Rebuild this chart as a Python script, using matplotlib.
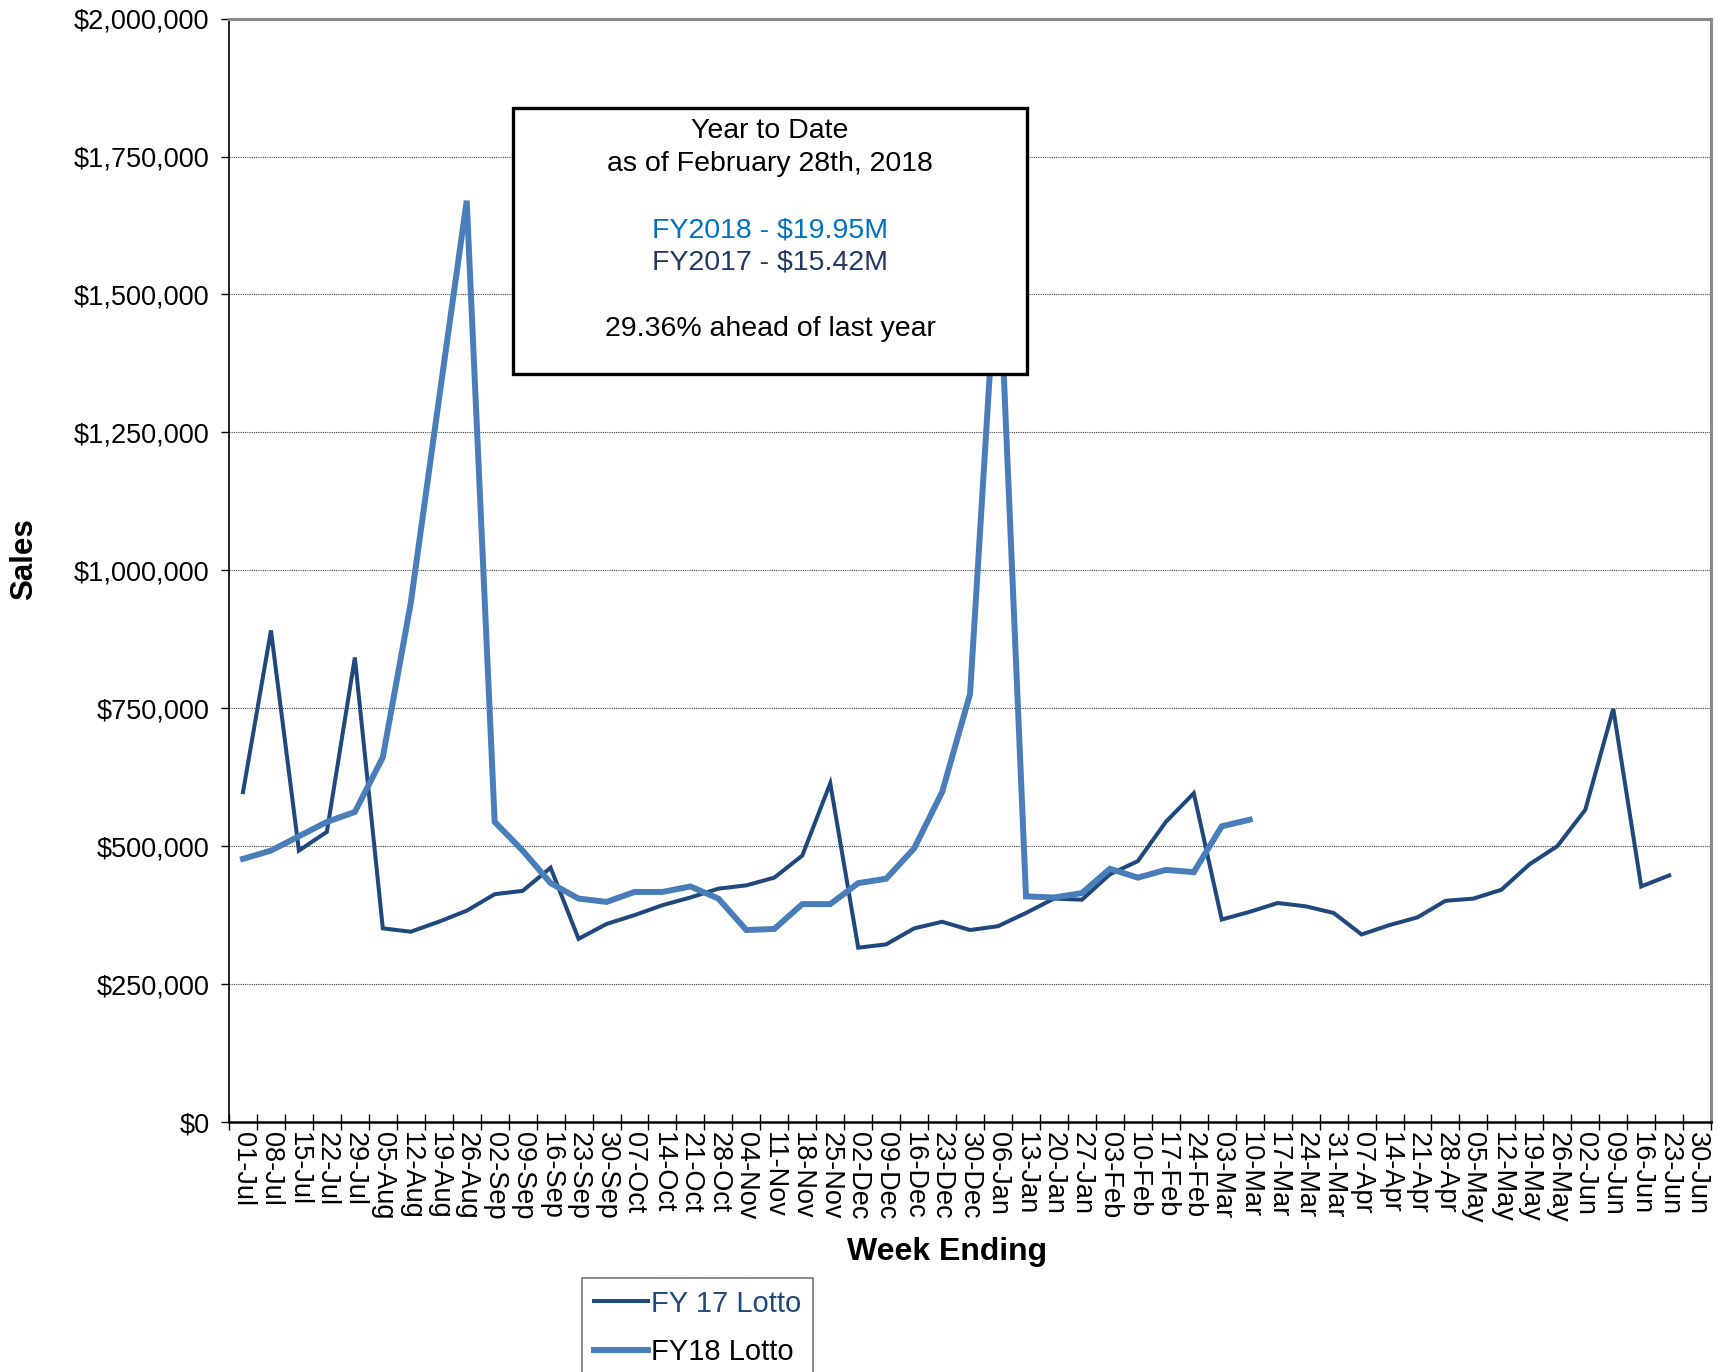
import numpy as np
import matplotlib
matplotlib.use("Agg")
import matplotlib.pyplot as plt
from matplotlib.patches import Rectangle
from matplotlib.ticker import FuncFormatter, MultipleLocator

plt.rcParams['font.family'] = ['Liberation Sans', 'DejaVu Sans']

# week ending labels, 01-Jul through 30-Jun
weeks = ['01-Jul', '08-Jul', '15-Jul', '22-Jul', '29-Jul', '05-Aug', '12-Aug',
         '19-Aug', '26-Aug', '02-Sep', '09-Sep', '16-Sep', '23-Sep', '30-Sep',
         '07-Oct', '14-Oct', '21-Oct', '28-Oct', '04-Nov', '11-Nov', '18-Nov',
         '25-Nov', '02-Dec', '09-Dec', '16-Dec', '23-Dec', '30-Dec', '06-Jan',
         '13-Jan', '20-Jan', '27-Jan', '03-Feb', '10-Feb', '17-Feb', '24-Feb',
         '03-Mar', '10-Mar', '17-Mar', '24-Mar', '31-Mar', '07-Apr', '14-Apr',
         '21-Apr', '28-Apr', '05-May', '12-May', '19-May', '26-May', '02-Jun',
         '09-Jun', '16-Jun', '23-Jun', '30-Jun']

# FY17 weekly sales
fy17 = [598000, 891000, 492000, 526000, 842000, 351000, 345000, 363000,
        383000, 413000, 419000, 461000, 332000, 359000, 375000, 393000,
        407000, 423000, 429000, 443000, 483000, 614000, 316000, 322000,
        351000, 363000, 348000, 355000, 379000, 405000, 403000, 449000,
        473000, 544000, 596000, 367000, 381000, 397000, 391000, 379000,
        340000, 357000, 371000, 401000, 405000, 421000, 467000, 500000,
        566000, 749000, 427000, 447000]

# FY18 weekly sales so far
fy18 = [477000, 492000, 518000, 544000, 562000, 661000, 941000, 1307000,
        1670000, 544000, 492000, 433000, 405000, 399000, 417000, 417000,
        427000, 405000, 348000, 350000, 395000, 395000, 433000, 441000,
        496000, 598000, 776000, 1600000, 409000, 407000, 415000, 459000,
        443000, 457000, 453000, 536000, 548000]

box_lines = ['Year to Date', 'as of February 28th, 2018',
             'FY2018 - $19.95M', 'FY2017 - $15.42M',
             '29.36% ahead of last year']

dark = '#1F497D'
light = '#4A7EBB'

fig = plt.figure(figsize=(17.18, 13.72), dpi=100)
ax = fig.add_axes([0.1333, 0.1822, 0.8627, 0.8042])

ax.plot(np.arange(len(fy17)), fy17, color=dark, lw=2.9,
        solid_joinstyle='miter', label='FY 17 Lotto', zorder=3)
ax.plot(np.arange(len(fy18)), fy18, color=light, lw=4.3,
        solid_joinstyle='miter', label='FY18 Lotto', zorder=3)

ax.set_xlim(-0.5, len(weeks) - 0.5)
ax.set_ylim(0, 2000000)

# y axis: dollar ticks every 250k with dotted grid
ax.yaxis.set_major_locator(MultipleLocator(250000))
ax.yaxis.set_major_formatter(FuncFormatter(lambda v, p: '${:,.0f}'.format(v)))
ax.grid(axis='y', color='#404040', linestyle=(0, (1, 1)), lw=0.8)
ax.tick_params(axis='y', direction='out', length=6, width=1,
               labelsize=19.5, pad=8)

# x axis: labels at category centres, cross ticks at boundaries
ax.set_xticks(np.arange(len(weeks)))
ax.set_xticklabels(weeks, rotation=-90, fontsize=19.5)
ax.tick_params(axis='x', which='major', length=0, pad=7)
ax.set_xticks(np.arange(len(weeks) + 1) - 0.5, minor=True)
ax.tick_params(axis='x', which='minor', direction='inout', length=12,
               width=1, color='black')

for s in ['top', 'right']:
    ax.spines[s].set_color('#888888')
    ax.spines[s].set_linewidth(2.2)
ax.spines['left'].set_color('black')
ax.spines['left'].set_linewidth(1.2)
ax.spines['bottom'].set_color('black')
ax.spines['bottom'].set_linewidth(1.8)

ax.set_ylabel('Sales', fontsize=22.5, fontweight='bold')
ax.yaxis.set_label_coords(-0.128, 0.51)
fig.text(0.5512, 0.0875, 'Week Ending', fontsize=23, fontweight='bold',
         ha='center', va='center')

# year to date summary box, drawn over the lines
ax.add_patch(Rectangle((0.1916, 0.678), 0.3469, 0.241, transform=ax.transAxes,
                       facecolor='white', edgecolor='black', lw=2.4,
                       zorder=5))
ys = [131.5, 164, 230, 263, 329]
cols = ['black', 'black', '#0070C0', '#1F3864', 'black']
for txt, yy, c in zip(box_lines, ys, cols):
    fig.text(770 / 1718, 1 - yy / 1372, txt, fontsize=20.5, color=c,
             ha='center', va='center', zorder=6)

leg = fig.legend(loc='upper left', bbox_to_anchor=(0.3388, 0.0685),
                 fontsize=21, frameon=True, fancybox=False,
                 edgecolor='#555555', handlelength=1.85, handletextpad=0.12,
                 labelspacing=0.7, borderpad=0.4, borderaxespad=0)
leg.get_frame().set_linewidth(1.2)
leg.get_texts()[0].set_color(dark)

plt.savefig('out.png', dpi=100)
